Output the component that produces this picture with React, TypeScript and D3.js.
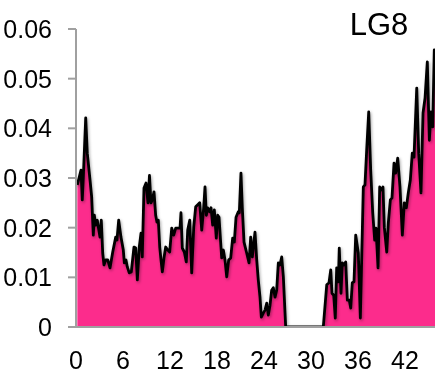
import React from "react";
import * as d3 from "d3";

const positions: number[] = [
  0.17, 0.64, 0.8, 0.93, 1.24, 1.44, 1.79, 2.0, 2.21, 2.34, 2.51, 2.72, 2.85, 3.06, 3.23, 3.41, 3.57, 3.79, 4.05, 4.34,
  4.69, 5.07, 5.23, 5.45, 5.74, 6.04, 6.17, 6.38, 6.55, 6.8, 7.06, 7.4, 7.62, 7.83, 8.08, 8.3, 8.46, 8.68, 8.94, 9.19,
  9.38, 9.57, 9.74, 9.96, 10.17, 10.34, 10.51, 10.69, 10.85, 11.02, 11.23, 11.45, 11.71, 11.96, 12.22, 12.47, 12.73, 13.06, 13.28, 13.4,
  13.57, 13.83, 14.08, 14.26, 14.52, 14.77, 15.03, 15.28, 15.54, 15.79, 16.05, 16.3, 16.47, 16.64, 16.81, 17.07, 17.24, 17.45, 17.66, 17.91,
  18.09, 18.26, 18.45, 18.6, 18.81, 19.02, 19.24, 19.49, 19.75, 20.0, 20.21, 20.43, 20.72, 20.85, 21.06, 21.23, 21.45, 21.79, 22.09, 22.3,
  22.51, 22.64, 22.85, 23.07, 23.27, 23.49, 23.66, 23.91, 24.13, 24.35, 24.55, 24.77, 24.98, 25.19, 25.41, 25.62, 25.83, 26.04, 26.26, 26.47,
  26.77, 31.57, 32.01, 32.3, 32.52, 32.68, 32.9, 33.1, 33.28, 33.49, 33.61, 33.83, 34.0, 34.21, 34.43, 34.64, 34.89, 35.07, 35.27, 35.49,
  35.71, 36.04, 36.3, 36.68, 36.89, 37.11, 37.37, 37.62, 37.88, 38.13, 38.3, 38.56, 38.77, 39.03, 39.19, 39.36, 39.67, 39.87, 40.13, 40.34,
  40.6, 40.81, 41.07, 41.36, 41.66, 41.91, 42.17, 42.42, 42.68, 42.93, 43.15, 43.5, 43.75, 44.04, 44.3, 44.56, 44.85, 45.11, 45.32, 45.54,
  45.74, 46.0,
];

const values: number[] = [
  0.0286, 0.0316, 0.0256, 0.03, 0.0421, 0.035, 0.0296, 0.0262, 0.0185, 0.0225, 0.0205, 0.0215, 0.0201, 0.0181, 0.0215, 0.0149, 0.0125, 0.0135, 0.0135, 0.0119,
  0.0151, 0.0181, 0.0175, 0.0215, 0.0181, 0.0155, 0.0129, 0.0135, 0.0121, 0.0109, 0.0111, 0.0161, 0.0159, 0.0095, 0.0161, 0.0189, 0.0141, 0.028, 0.029, 0.025,
  0.0305, 0.025, 0.0256, 0.0272, 0.0225, 0.0211, 0.0215, 0.0161, 0.0135, 0.0111, 0.0139, 0.0161, 0.0155, 0.0151, 0.0199, 0.0185, 0.0199, 0.0199, 0.0199, 0.023,
  0.0159, 0.0151, 0.0131, 0.0195, 0.0215, 0.0109, 0.0201, 0.0242, 0.0246, 0.025, 0.0195, 0.024, 0.0282, 0.0225, 0.024, 0.0232, 0.024, 0.0205, 0.0236, 0.0179,
  0.0225, 0.0221, 0.0175, 0.0139, 0.0155, 0.0135, 0.0101, 0.0135, 0.0139, 0.0179, 0.0171, 0.0221, 0.0232, 0.023, 0.031, 0.024, 0.0171, 0.0149, 0.0129, 0.0181,
  0.0141, 0.0161, 0.0191, 0.0135, 0.0095, 0.006, 0.002, 0.0028, 0.0034, 0.0048, 0.0024, 0.0044, 0.0074, 0.0079, 0.006, 0.0074, 0.0129, 0.0125, 0.0141, 0.0101,
  0.0, 0.0, 0.0085, 0.0089, 0.0115, 0.0068, 0.0064, 0.0018, 0.0119, 0.0091, 0.0159, 0.0068, 0.0129, 0.0125, 0.0131, 0.0054, 0.0054, 0.0038, 0.0089, 0.0091,
  0.0185, 0.0149, 0.0018, 0.0282, 0.0286, 0.0356, 0.0433, 0.0316, 0.023, 0.0175, 0.0199, 0.0119, 0.0282, 0.0276, 0.0282, 0.0201, 0.0151, 0.0209, 0.0256, 0.026,
  0.033, 0.031, 0.034, 0.0282, 0.0185, 0.025, 0.024, 0.027, 0.0296, 0.035, 0.0342, 0.0481, 0.035, 0.027, 0.0431, 0.0461, 0.0534, 0.0376, 0.0433, 0.0403,
  0.0558, 0.05,
];

const yTicks: number[] = [0, 0.01, 0.02, 0.03, 0.04, 0.05, 0.06];
const yTickLabels: string[] = ["0", "0.01", "0.02", "0.03", "0.04", "0.05", "0.06"];
const xTicks: number[] = [0, 6, 12, 18, 24, 30, 36, 42];
const title = "LG8";

const W = 435;
const H = 374;
const left = 76;
const right = 435;
const top = 29;
const bottom = 327;

export default function App() {
  const x = d3.scaleLinear().domain([0, 45.83]).range([left, right]);
  const y = d3.scaleLinear().domain([0, 0.06]).range([bottom, top]);
  const data = positions.map((p, i) => ({ p, v: values[i] }));

  const area = d3
    .area<{ p: number; v: number }>()
    .x((d) => x(d.p))
    .y0(y(0))
    .y1((d) => y(d.v));
  const line = d3
    .line<{ p: number; v: number }>()
    .x((d) => x(d.p))
    .y((d) => y(d.v));

  const font = "'Liberation Sans', Arial, sans-serif";
  const axisColor = "#a0a0a0";

  return (
    <div style={{ position: "fixed", left: 0, top: 0 }}>
      <svg width={W} height={H} style={{ display: "block" }}>
        <defs>
          <clipPath id="plotClip">
            <rect x={left} y={0} width={right - left} height={bottom} />
          </clipPath>
          <filter id="shadow" x="-10%" y="-10%" width="120%" height="120%">
            <feDropShadow dx="1" dy="1.5" stdDeviation="1.5" floodColor="#000" floodOpacity="0.35" />
          </filter>
        </defs>
        <g clipPath="url(#plotClip)">
          <path d={area(data) || ""} fill="#fc2c8c" />
          <path
            d={line(data) || ""}
            fill="none"
            stroke="#000"
            strokeWidth={2.8}
            strokeLinejoin="round"
            filter="url(#shadow)"
          />
        </g>
        {/* y axis */}
        <line x1={left} x2={left} y1={y(0.06)} y2={bottom + 1} stroke={axisColor} strokeWidth={2} />
        {yTicks.map((t, i) => (
          <g key={t}>
            <line x1={68} x2={left} y1={y(t)} y2={y(t)} stroke={axisColor} strokeWidth={2} />
            <text
              x={52}
              y={y(t) + 9}
              textAnchor="end"
              fontFamily={font}
              fontSize={25}
              fill="#000"
            >
              {yTickLabels[i]}
            </text>
          </g>
        ))}
        {/* x axis */}
        <line x1={68} x2={right} y1={bottom} y2={bottom} stroke={axisColor} strokeWidth={2} />
        {xTicks.map((t) => (
          <text
            key={t}
            x={x(t)}
            y={369}
            textAnchor="middle"
            fontFamily={font}
            fontSize={25}
            fill="#000"
          >
            {t}
          </text>
        ))}
        <text x={379} y={35} textAnchor="middle" fontFamily={font} fontSize={31} fill="#000">
          {title}
        </text>
      </svg>
    </div>
  );
}
